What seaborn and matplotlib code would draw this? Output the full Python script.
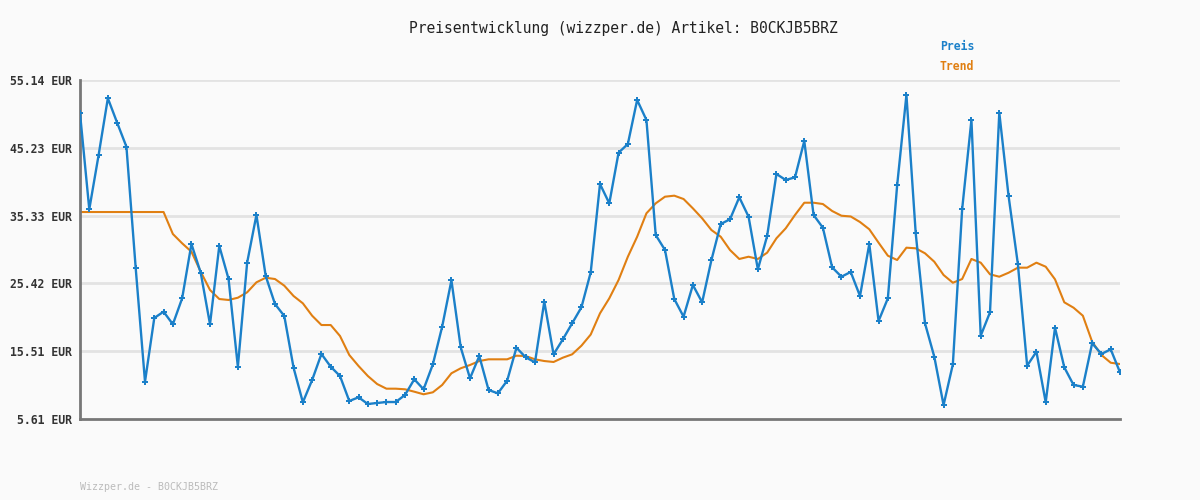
import numpy as np
import pandas as pd
import matplotlib
matplotlib.use("Agg")
import matplotlib.pyplot as plt
import seaborn as sns

# ==============================
# DATA
# ==============================

preis = [
    50.28, 36.25, 44.14, 52.47, 48.90, 45.39, 27.63, 11.06, 20.37, 21.29,
    19.45, 23.24, 31.18, 26.98, 19.45, 30.89, 26.06, 13.25, 28.45, 35.42,
    26.50, 22.41, 20.66, 13.10, 8.05, 11.31, 15.11, 13.25, 11.89, 8.24,
    8.78, 7.80, 7.95, 8.09, 8.09, 9.12, 11.41, 9.95, 13.60, 19.09,
    25.87, 16.08, 11.56, 14.81, 9.85, 9.36, 11.20, 16.03, 14.62, 13.89,
    22.75, 15.06, 17.25, 19.59, 21.93, 27.04, 39.94, 37.12, 44.52, 45.79,
    52.22, 49.30, 32.49, 30.30, 23.14, 20.56, 25.19, 22.66, 28.84, 34.10,
    34.79, 38.00, 35.17, 27.48, 32.35, 41.41, 40.53, 40.92, 46.23, 35.42,
    33.56, 27.77, 26.40, 27.09, 23.58, 31.18, 19.93, 23.24, 39.75, 52.95,
    32.74, 19.59, 14.71, 7.65, 13.60, 36.25, 49.30, 17.78, 21.20, 50.36,
    38.19, 28.26, 13.40, 15.44, 8.05, 18.95, 13.16, 10.58, 10.33, 16.67,
    15.11, 15.79, 12.43,
]

trend = [
    35.85, 35.85, 35.85, 35.85, 35.85, 35.85, 35.85, 35.85, 35.85, 35.85,
    32.64, 31.28, 30.05, 27.13, 24.46, 23.14, 23.00, 23.33, 24.12, 25.58,
    26.25, 26.06, 25.09, 23.58, 22.51, 20.70, 19.34, 19.34, 17.74, 14.96,
    13.35, 11.89, 10.72, 10.04, 10.04, 9.95, 9.60, 9.22, 9.51, 10.58,
    12.29, 13.02, 13.50, 14.08, 14.33, 14.33, 14.33, 14.86, 14.81, 14.33,
    14.08, 13.94, 14.57, 15.06, 16.32, 17.95, 21.05, 23.24, 25.92, 29.32,
    32.24, 35.66, 37.12, 38.09, 38.24, 37.75, 36.39, 34.93, 33.22, 32.24,
    30.30, 28.99, 29.32, 28.99, 29.91, 32.01, 33.47, 35.42, 37.21, 37.21,
    37.02, 36.00, 35.31, 35.20, 34.39, 33.33, 31.37, 29.47, 28.84, 30.64,
    30.55, 29.82, 28.59, 26.65, 25.52, 26.06, 28.99, 28.45, 26.75, 26.40,
    26.98, 27.72, 27.72, 28.45, 27.86, 26.02, 22.66, 21.87, 20.70, 16.90,
    14.96, 13.83, 13.64,
]

y_ticks = [5.61, 15.51, 25.42, 35.33, 45.23, 55.14]
artikel = "B0CKJB5BRZ"

# ==============================
# PLOT
# ==============================

df = pd.DataFrame({"idx": np.arange(len(preis)), "Preis": preis, "Trend": trend})

blue = "#1b80c9"
orange = "#e07f12"
bg = "#fafafa"

sns.set_theme(style="white")
plt.rcParams["font.family"] = ["DejaVu Sans Mono", "DejaVu Sans"]

fig = plt.figure(figsize=(12, 5), dpi=100, facecolor=bg)
ax = fig.add_axes([80 / 1200, 1 - 419 / 500, 1040 / 1200, 339 / 500])
ax.set_facecolor(bg)

for t in y_ticks[1:]:
    ax.axhline(t, color="#e3e3e3", lw=2, zorder=0)

sns.lineplot(data=df, x="idx", y="Trend", ax=ax, color=orange, lw=1.5, zorder=2)
sns.lineplot(data=df, x="idx", y="Preis", ax=ax, color=blue, lw=1.7,
             marker="P", markersize=4.5, markeredgewidth=0, zorder=3)

ax.set_xlim(0, len(preis) - 1)
ax.set_ylim(y_ticks[0], y_ticks[-1])
ax.set_xticks([])
ax.set_yticks(y_ticks)
ax.set_yticklabels([f"{t:.2f} EUR" for t in y_ticks], fontsize=8.3,
                   fontweight="bold", color="#333333")
ax.tick_params(axis="y", length=0, pad=5.5)
ax.set_xlabel("")
ax.set_ylabel("")

for s in ["top", "right"]:
    ax.spines[s].set_visible(False)
ax.spines["left"].set_color("#777777")
ax.spines["left"].set_linewidth(2)
ax.spines["bottom"].set_color("#777777")
ax.spines["bottom"].set_linewidth(2)

fig.text(623 / 1200, 1 - 28 / 500, f"Preisentwicklung (wizzper.de) Artikel: {artikel}",
         ha="center", va="center", fontsize=10.5, color="#222222")
fig.text(940 / 1200, 1 - 47 / 500, "Preis", ha="left", va="center",
         fontsize=8.3, fontweight="bold", color=blue)
fig.text(940 / 1200, 1 - 67 / 500, "Trend", ha="left", va="center",
         fontsize=8.3, fontweight="bold", color=orange)
fig.text(80 / 1200, 1 - 487 / 500, f"Wizzper.de - {artikel}", ha="left",
         va="center", fontsize=7.2, color="#bbbbbb")

plt.savefig("out.png", dpi=100, facecolor=bg)
